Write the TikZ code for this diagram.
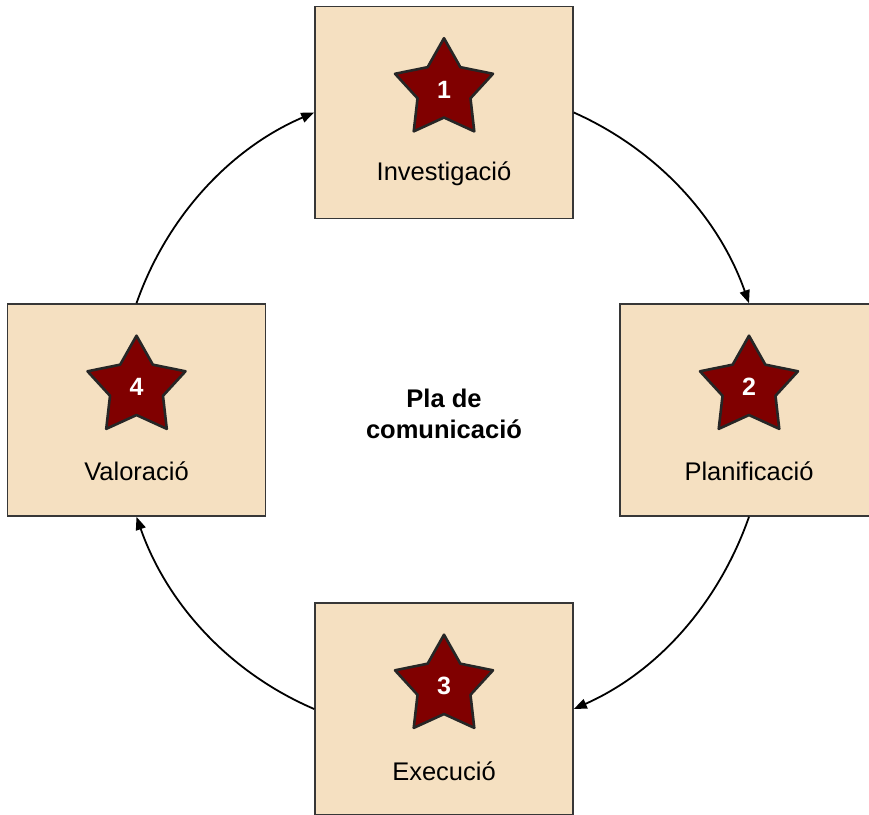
\documentclass[tikz,border=0pt]{standalone}
\usepackage{fontspec}
\setmainfont{Liberation Sans}
\usetikzlibrary{shapes.geometric,arrows.meta}
\definecolor{boxfill}{RGB}{245,224,193}
\definecolor{boxline}{RGB}{55,55,55}
\definecolor{starred}{RGB}{128,0,0}

\tikzset{
  stagebox/.style={draw=boxline,fill=boxfill,line width=1.6pt,minimum width=258pt,minimum height=212pt},
  stagestar/.style={star,star points=5,star point ratio=1.85,minimum size=103pt,draw=black!85,line width=2.6pt,line join=round,fill=starred,text=white,font=\fontsize{25}{30}\selectfont\bfseries},
  stagename/.style={font=\fontsize{25.5}{30}\selectfont},
  cycle/.style={line width=1.8pt,-{Triangle[length=13pt,width=10pt]},looseness=0.9}
}

\begin{document}
\begin{tikzpicture}[x=1pt,y=-1pt]
	\tikzstyle{every node}+=[inner sep=0pt]
	\useasboundingbox (0,0) rectangle (869,814);
	\clip (0,0) rectangle (869,814);
	% the four stages
	\node[stagebox] (inv) at (444,112.5) {};
	\node[stagebox] (plan) at (749,410) {};
	\node[stagebox] (exe) at (444,709) {};
	\node[stagebox] (val) at (136.5,410) {};
	\node[stagestar] (s1) at ([yshift=-84pt]inv.north) {1};
	\node[stagestar] (s2) at ([yshift=-84pt]plan.north) {2};
	\node[stagestar] (s3) at ([yshift=-84pt]exe.north) {3};
	\node[stagestar] (s4) at ([yshift=-84pt]val.north) {4};
	\node[stagename] (t1) at ([yshift=-168.5pt]inv.north) {Investigació};
	\node[stagename] (t2) at ([yshift=-168.5pt]plan.north) {Planificació};
	\node[stagename] (t3) at ([yshift=-169pt]exe.north) {Execució};
	\node[stagename] (t4) at ([yshift=-168.5pt]val.north) {Valoració};
	% centre
	\node[align=center,font=\fontsize{25.5}{31}\selectfont\bfseries] (pla) at (444,414) {Pla de\\comunicació};
	% arrows round the circle
	\draw[cycle] (inv.east) to[out=-24,in=109.4] (plan.north);
	\draw[cycle] (plan.south) to[out=250.7,in=23.9] (exe.east);
	\draw[cycle] (exe.west) to[out=156.8,in=289.3] (val.south);
	\draw[cycle] (val.north) to[out=70.7,in=203.2] (inv.west);
\end{tikzpicture}
\end{document}
